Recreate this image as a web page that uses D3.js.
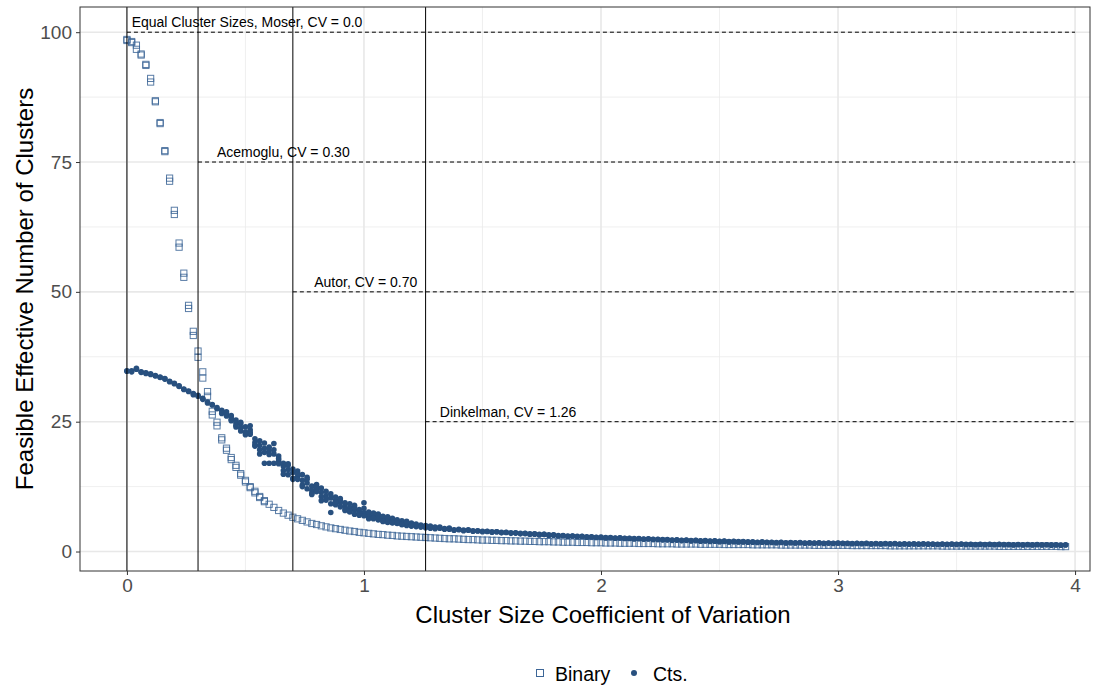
<!DOCTYPE html>
<html>
<head>
<meta charset="utf-8">
<script src="https://cdn.jsdelivr.net/npm/d3@7"></script>
<style>
  body { margin: 0; background: #fff; }
  text { font-family: "Liberation Sans", Arial, Helvetica, sans-serif; }
</style>
</head>
<body>
<svg id="chart" width="1118" height="686"></svg>
<script>
// Cluster-size coefficient of variation grid
const cvGrid = [
  0.00,0.02,0.04,0.06,0.08,0.10,0.12,0.14,0.16,0.18,
  0.20,0.22,0.24,0.26,0.28,0.30,0.32,0.34,0.36,0.38,
  0.40,0.42,0.44,0.46,0.48,0.50,0.52,0.54,0.56,0.58,
  0.60,0.62,0.64,0.66,0.68,0.70,0.72,0.74,0.76,0.78,
  0.80,0.82,0.84,0.86,0.88,0.90,0.92,0.94,0.96,0.98,
  1.00,1.02,1.04,1.06,1.08,1.10,1.12,1.14,1.16,1.18,
  1.20,1.22,1.24,1.26,1.28,1.30,1.32,1.34,1.36,1.38,
  1.40,1.42,1.44,1.46,1.48,1.50,1.52,1.54,1.56,1.58,
  1.60,1.62,1.64,1.66,1.68,1.70,1.72,1.74,1.76,1.78,
  1.80,1.82,1.84,1.86,1.88,1.90,1.92,1.94,1.96,1.98,
  2.00,2.02,2.04,2.06,2.08,2.10,2.12,2.14,2.16,2.18,
  2.20,2.22,2.24,2.26,2.28,2.30,2.32,2.34,2.36,2.38,
  2.40,2.42,2.44,2.46,2.48,2.50,2.52,2.54,2.56,2.58,
  2.60,2.62,2.64,2.66,2.68,2.70,2.72,2.74,2.76,2.78,
  2.80,2.82,2.84,2.86,2.88,2.90,2.92,2.94,2.96,2.98,
  3.00,3.02,3.04,3.06,3.08,3.10,3.12,3.14,3.16,3.18,
  3.20,3.22,3.24,3.26,3.28,3.30,3.32,3.34,3.36,3.38,
  3.40,3.42,3.44,3.46,3.48,3.50,3.52,3.54,3.56,3.58,
  3.60,3.62,3.64,3.66,3.68,3.70,3.72,3.74,3.76,3.78,
  3.80,3.82,3.84,3.86,3.88,3.90,3.92,3.94,3.96
];

// Binary outcome: feasible effective number of clusters (first replicate)
const binaryRep1 = [
  98.4,98.2,97.5,95.8,93.8,91.1,86.8,82.6,77.2,71.9,
  65.7,59.4,53.6,47.4,42.4,38.6,34.6,30.8,27.0,24.9,
  21.9,19.9,18.1,16.6,15.0,13.7,12.5,11.6,10.6,9.8,
  9.1,8.5,7.9,7.4,7.0,6.6,6.3,6.0,5.7,5.4,
  5.2,4.95,4.75,4.55,4.4,4.25,4.1,3.95,3.85,3.7,
  3.6,3.5,3.4,3.3,3.25,3.15,3.1,3.0,2.95,2.9,
  2.85,2.8,2.75,2.7,2.65,2.6,2.55,2.5,2.45,2.45,
  2.4,2.35,2.3,2.3,2.25,2.2,2.2,2.15,2.15,2.1,
  2.1,2.05,2.05,2.0,2.0,1.95,1.95,1.9,1.9,1.9,
  1.85,1.85,1.8,1.8,1.8,1.75,1.75,1.75,1.7,1.7,
  1.7,1.65,1.65,1.65,1.6,1.6,1.6,1.6,1.55,1.55,
  1.55,1.55,1.5,1.5,1.5,1.5,1.45,1.45,1.45,1.45,
  1.45,1.4,1.4,1.4,1.4,1.4,1.35,1.35,1.35,1.35,
  1.35,1.35,1.3,1.3,1.3,1.3,1.3,1.3,1.25,1.25,
  1.25,1.25,1.25,1.25,1.25,1.2,1.2,1.2,1.2,1.2,
  1.2,1.2,1.2,1.15,1.15,1.15,1.15,1.15,1.15,1.15,
  1.15,1.1,1.1,1.1,1.1,1.1,1.1,1.1,1.1,1.1,
  1.1,1.1,1.05,1.05,1.05,1.05,1.05,1.05,1.05,1.05,
  1.05,1.05,1.05,1.05,1.0,1.0,1.0,1.0,1.0,1.0,
  1.0,1.0,1.0,1.0,1.0,1.0,1.0,0.95,0.95
];

// Binary outcome: second replicate (only differs at small CV)
const binaryRep2 = [
  98.6,98.0,96.7,95.6,93.6,90.4,86.6,82.4,77.0,71.3,
  64.9,58.6,52.8,46.8,41.6,37.4,33.4,29.9,26.3,24.2,
  21.5,19.5,17.7,16.2,14.7,13.4,12.3,11.3,10.4,9.6
];

// Continuous outcome: replicates 1 and 2 over the full grid
const ctsRep1 = [
  34.8,34.6,35.1,34.5,34.4,34.1,33.9,33.6,33.2,32.8,
  32.4,31.8,31.3,30.8,30.4,29.9,29.3,28.8,28.2,27.7,
  27.0,26.5,25.9,25.3,24.6,24.0,23.4,21.0,20.4,19.9,
  19.4,18.8,17.5,16.4,15.8,15.2,14.4,13.7,13.2,12.6,
  12.0,11.4,10.8,10.3,9.8,9.4,8.8,8.4,8.0,7.7,
  7.4,7.1,6.8,6.6,6.3,6.1,5.9,5.7,5.5,5.3,
  5.2,5.0,4.9,4.8,4.7,4.6,4.5,4.4,4.3,4.2,
  4.2,4.15,4.1,4.0,3.95,3.9,3.85,3.8,3.8,3.7,
  3.65,3.6,3.55,3.5,3.45,3.4,3.35,3.3,3.3,3.2,
  3.15,3.1,3.05,3.0,3.0,2.95,2.9,2.85,2.8,2.75,
  2.7,2.7,2.65,2.6,2.6,2.55,2.5,2.5,2.45,2.4,
  2.4,2.35,2.3,2.3,2.25,2.2,2.2,2.15,2.15,2.1,
  2.1,2.05,2.05,2.0,2.0,1.95,1.95,1.9,1.9,1.9,
  1.85,1.85,1.8,1.8,1.8,1.8,1.75,1.75,1.75,1.7,
  1.7,1.7,1.7,1.65,1.65,1.65,1.65,1.6,1.6,1.6,
  1.6,1.6,1.55,1.55,1.55,1.55,1.55,1.5,1.5,1.5,
  1.5,1.5,1.5,1.45,1.45,1.45,1.45,1.45,1.45,1.45,
  1.4,1.4,1.4,1.4,1.4,1.4,1.4,1.4,1.35,1.35,
  1.35,1.35,1.35,1.35,1.35,1.35,1.3,1.3,1.3,1.3,
  1.3,1.3,1.3,1.3,1.3,1.3,1.25,1.25,1.25
];

const ctsRep2 = [
  34.7,34.8,35.3,34.6,34.3,34.2,33.8,33.5,33.3,32.7,
  32.3,31.9,31.2,30.9,30.2,30.1,29.5,28.6,28.3,27.5,
  27.2,26.1,26.2,24.8,23.2,22.5,22.6,20.3,19.6,20.9,
  18.7,20.8,16.9,17.0,14.8,15.9,13.9,14.8,12.1,11.8,
  12.9,10.6,11.6,9.2,10.5,8.6,9.4,7.6,8.6,7.0,
  8.3,6.6,7.4,6.1,6.8,5.6,6.4,5.4,5.9,5.0,
  5.5,4.8,5.1,4.6,4.9,4.4,4.7,4.3,4.5,4.1,
  4.3,4.0,4.2,3.9,4.0,3.8,3.9,3.7,3.8,3.6,
  3.7,3.5,3.6,3.4,3.5,3.3,3.4,3.2,3.3,3.1,
  3.2,3.0,3.1,2.9,3.0,2.85,2.95,2.75,2.85,2.7,
  2.8,2.6,2.7,2.55,2.65,2.5,2.55,2.4,2.5,2.35,
  2.45,2.3,2.35,2.25,2.3,2.15,2.25,2.1,2.2,2.05,
  2.15,2.0,2.1,1.95,2.05,1.9,2.0,1.85,1.95,1.85,
  1.9,1.8,1.85,1.75,1.85,1.75,1.8,1.7,1.8,1.65,
  1.75,1.65,1.75,1.6,1.7,1.6,1.7,1.55,1.65,1.55,
  1.65,1.55,1.6,1.5,1.6,1.5,1.6,1.45,1.55,1.45,
  1.55,1.45,1.55,1.4,1.5,1.4,1.5,1.4,1.5,1.4,
  1.45,1.35,1.45,1.35,1.45,1.35,1.45,1.3,1.4,1.3,
  1.4,1.3,1.4,1.3,1.4,1.3,1.35,1.25,1.35,1.25,
  1.35,1.25,1.35,1.25,1.3,1.2,1.3,1.2,1.3
];

// Continuous outcome: third replicate, CV 0.40 to 1.30
const ctsRep3Start = 20;
const ctsRep3 = [
  26.6,26.9,25.4,24.3,24.9,23.0,22.9,21.7,18.8,19.1,
  20.1,17.0,18.4,15.6,16.6,14.1,15.5,12.8,13.9,11.2,
  11.5,12.2,9.9,11.1,9.0,9.9,7.9,9.2,7.2,8.1,
  6.9,7.6,6.3,7.0,5.9,6.5,5.5,6.1,5.2,5.6,
  5.0,5.3,4.7,5.0,4.5,4.7
];

// Continuous outcome: fourth replicate, CV 0.44 to 1.20
const ctsRep4Start = 22;
const ctsRep4 = [
  25.2,24.0,23.8,22.8,24.2,20.5,21.3,17.0,
  17.0,19.6,17.9,14.9,16.9,13.9,15.0,12.5,14.3,11.0,
  12.4,9.8,10.2,7.5,9.5,10.2,8.2,7.8,8.9,7.3,
  9.4,6.3,6.5,7.2,5.8,6.7,5.6,5.5,5.2,5.8,4.9
];

// Reference studies
const studyNames  = ["Equal Cluster Sizes, Moser", "Acemoglu", "Autor", "Dinkelman"];
const studyCV     = [0.0, 0.30, 0.70, 1.26];
const studyCVText = ["0.0", "0.30", "0.70", "1.26"];
const studyLevel  = [100, 75, 50, 25];
const studyLabelX = [0.02, 0.38, 0.79, 1.32];

const xTicks = [0, 1, 2, 3, 4];
const xMinor = [0.5, 1.5, 2.5, 3.5];
const yTicks = [0, 25, 50, 75, 100];
const yMinor = [12.5, 37.5, 62.5, 87.5];
const seriesNames = ["Binary", "Cts."];

const panel = { left: 80, right: 1090, top: 7, bottom: 571 };
const blue = "#28507f";
const blueLight = "#3d6697";

const svg = d3.select("#chart");
svg.append("rect").attr("width", 1118).attr("height", 686).attr("fill", "#fff");

const x = d3.scaleLinear().domain([-0.198, 4.063]).range([panel.left, panel.right]);
const y = d3.scaleLinear().domain([-3.75, 104.85]).range([panel.bottom, panel.top]);

const plot = svg.append("g");
plot.append("defs").append("clipPath").attr("id", "clip")
  .append("rect")
  .attr("x", panel.left).attr("y", panel.top)
  .attr("width", panel.right - panel.left).attr("height", panel.bottom - panel.top);

// Grid
const grid = plot.append("g");
grid.selectAll(".xmin").data(xMinor).join("line")
  .attr("x1", d => x(d)).attr("x2", d => x(d))
  .attr("y1", panel.top).attr("y2", panel.bottom)
  .attr("stroke", "#ebebeb").attr("stroke-width", 0.8);
grid.selectAll(".ymin").data(yMinor).join("line")
  .attr("y1", d => y(d)).attr("y2", d => y(d))
  .attr("x1", panel.left).attr("x2", panel.right)
  .attr("stroke", "#ebebeb").attr("stroke-width", 0.8);
grid.selectAll(".xmaj").data(xTicks).join("line")
  .attr("x1", d => x(d)).attr("x2", d => x(d))
  .attr("y1", panel.top).attr("y2", panel.bottom)
  .attr("stroke", "#e8e8e8").attr("stroke-width", 1.6);
grid.selectAll(".ymaj").data(yTicks).join("line")
  .attr("y1", d => y(d)).attr("y2", d => y(d))
  .attr("x1", panel.left).attr("x2", panel.right)
  .attr("stroke", "#e8e8e8").attr("stroke-width", 1.6);

// Points
const pts = plot.append("g").attr("clip-path", "url(#clip)");
const binaryPts = [];
binaryRep1.forEach((v, i) => binaryPts.push({ cv: cvGrid[i], v }));
binaryRep2.forEach((v, i) => binaryPts.push({ cv: cvGrid[i], v }));
const ctsPts = [];
ctsRep1.forEach((v, i) => ctsPts.push({ cv: cvGrid[i], v }));
ctsRep2.forEach((v, i) => ctsPts.push({ cv: cvGrid[i], v }));
ctsRep3.forEach((v, i) => ctsPts.push({ cv: cvGrid[i + ctsRep3Start], v }));
ctsRep4.forEach((v, i) => ctsPts.push({ cv: cvGrid[i + ctsRep4Start], v }));

const sq = 6.2;
pts.selectAll(".bin").data(binaryPts).join("rect")
  .attr("x", d => x(d.cv) - sq / 2).attr("y", d => y(d.v) - sq / 2)
  .attr("width", sq).attr("height", sq)
  .attr("fill", "none").attr("stroke", blueLight).attr("stroke-width", 1)
  .attr("stroke-opacity", 0.85);
pts.selectAll(".cts").data(ctsPts).join("circle")
  .attr("cx", d => x(d.cv)).attr("cy", d => y(d.v)).attr("r", 2.8)
  .attr("fill", blue);

// Reference study lines and labels
const ref = plot.append("g");
ref.selectAll(".vl").data(studyCV).join("line")
  .attr("x1", d => x(d)).attr("x2", d => x(d))
  .attr("y1", panel.top).attr("y2", panel.bottom)
  .attr("stroke", "#000").attr("stroke-width", 1);
ref.selectAll(".hl").data(studyCV).join("line")
  .attr("x1", d => x(d)).attr("x2", x(4))
  .attr("y1", (d, i) => y(studyLevel[i])).attr("y2", (d, i) => y(studyLevel[i]))
  .attr("stroke", "#000").attr("stroke-width", 1).attr("stroke-dasharray", "4,3");
ref.selectAll(".lab").data(studyNames).join("text")
  .attr("x", (d, i) => x(studyLabelX[i]))
  .attr("y", (d, i) => y(studyLevel[i]) - 5)
  .attr("font-size", 14).attr("fill", "#000")
  .text((d, i) => `${d}, CV = ${studyCVText[i]}`);

// Panel border
plot.append("rect")
  .attr("x", panel.left).attr("y", panel.top)
  .attr("width", panel.right - panel.left).attr("height", panel.bottom - panel.top)
  .attr("fill", "none").attr("stroke", "#333").attr("stroke-width", 1);

// Axes
const xAxis = svg.append("g").attr("transform", `translate(0,${panel.bottom})`)
  .call(d3.axisBottom(x).tickValues(xTicks).tickFormat(d3.format("d")).tickSize(4).tickPadding(4));
const yAxis = svg.append("g").attr("transform", `translate(${panel.left},0)`)
  .call(d3.axisLeft(y).tickValues(yTicks).tickFormat(d3.format("d")).tickSize(4).tickPadding(4));
[xAxis, yAxis].forEach(g => {
  g.select(".domain").remove();
  g.selectAll(".tick line").attr("stroke", "#333").attr("stroke-width", 1);
  g.selectAll(".tick text").attr("fill", "#4d4d4d").attr("font-size", 19)
    .attr("font-family", "'Liberation Sans', Arial, sans-serif");
});

// Axis titles
svg.append("text")
  .attr("x", (panel.left + panel.right) / 2 + 18).attr("y", 623)
  .attr("text-anchor", "middle").attr("font-size", 24).attr("fill", "#000")
  .text("Cluster Size Coefficient of Variation");
svg.append("text")
  .attr("transform", `translate(33,${(panel.top + panel.bottom) / 2}) rotate(-90)`)
  .attr("text-anchor", "middle").attr("font-size", 24).attr("fill", "#000")
  .text("Feasible Effective Number of Clusters");

// Legend
const legend = svg.append("g");
legend.append("rect").attr("x", 536.5).attr("y", 669.5).attr("width", 7).attr("height", 7)
  .attr("fill", "none").attr("stroke", blueLight).attr("stroke-width", 1);
legend.append("text").attr("x", 555).attr("y", 681).attr("font-size", 19.5).attr("fill", "#000")
  .text(seriesNames[0]);
legend.append("circle").attr("cx", 634).attr("cy", 673).attr("r", 3).attr("fill", blue);
legend.append("text").attr("x", 653).attr("y", 681).attr("font-size", 19.5).attr("fill", "#000")
  .text(seriesNames[1]);
</script>
</body>
</html>
